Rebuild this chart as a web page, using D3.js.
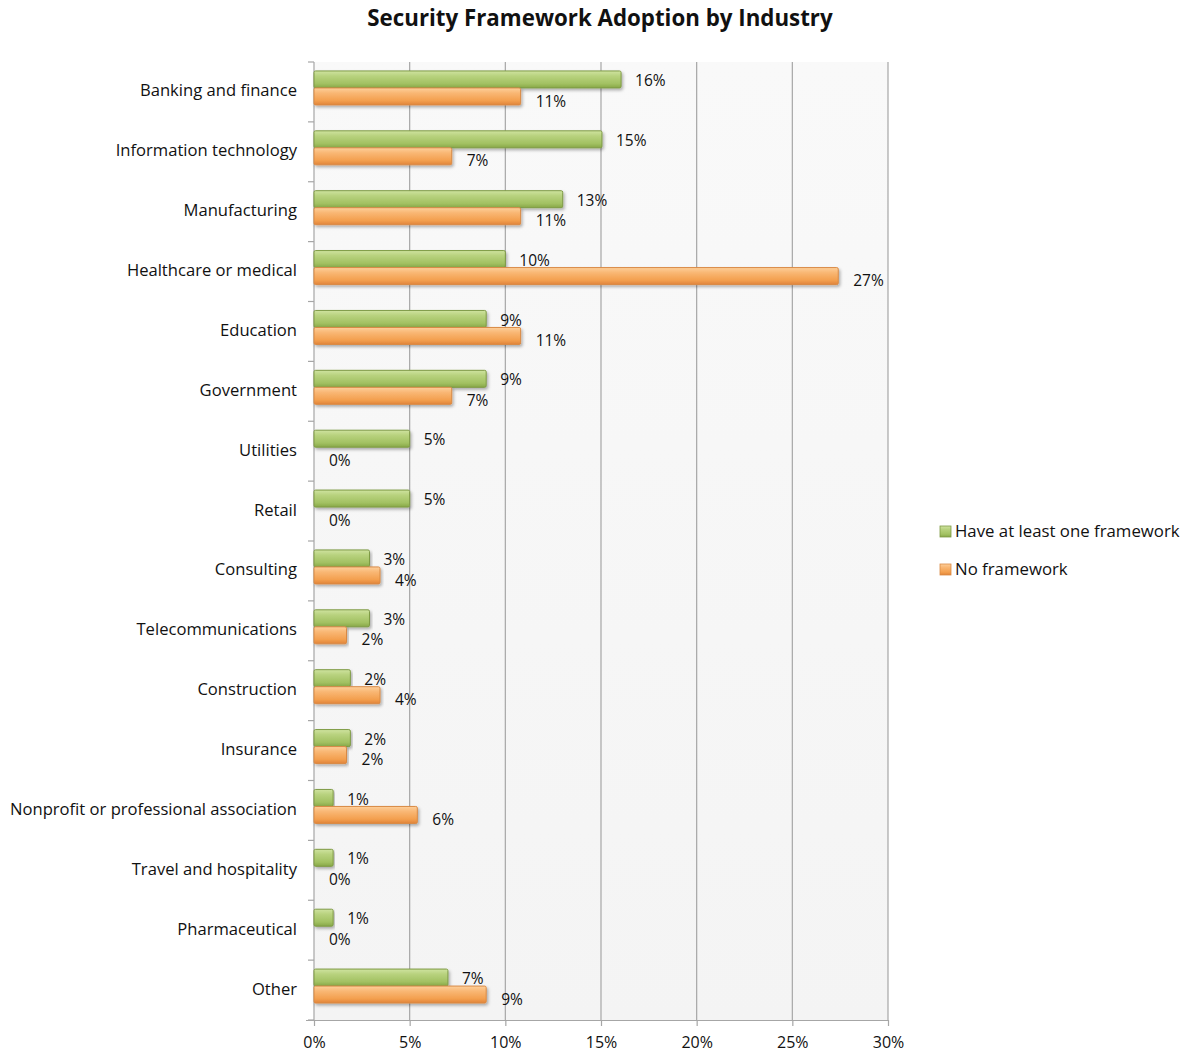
<!DOCTYPE html>
<html>
<head>
<meta charset="utf-8">
<script src="https://cdn.jsdelivr.net/npm/d3@7"></script>
<style>
  body { margin: 0; background: #fff; }
  svg { display: block; font-family: "Open Sans", "Liberation Sans", sans-serif; }
</style>
</head>
<body>
<svg id="chart" width="1191" height="1053"></svg>
<script>
const categories = [
  "Banking and finance", "Information technology", "Manufacturing",
  "Healthcare or medical", "Education", "Government", "Utilities", "Retail",
  "Consulting", "Telecommunications", "Construction", "Insurance",
  "Nonprofit or professional association", "Travel and hospitality",
  "Pharmaceutical", "Other"
];
const seriesNames = ["Have at least one framework", "No framework"];
const withFramework = [16.05, 15.05, 13.0, 10.0, 9.0, 9.0, 5.0, 5.0, 2.9, 2.9, 1.9, 1.9, 1.0, 1.0, 1.0, 7.0];
const noFramework   = [10.8, 7.2, 10.8, 27.4, 10.8, 7.2, 0, 0, 3.45, 1.7, 3.45, 1.7, 5.4, 0, 0, 9.0];
const withLabels = ["16%", "15%", "13%", "10%", "9%", "9%", "5%", "5%", "3%", "3%", "2%", "2%", "1%", "1%", "1%", "7%"];
const noLabels   = ["11%", "7%", "11%", "27%", "11%", "7%", "0%", "0%", "4%", "2%", "4%", "2%", "6%", "0%", "0%", "9%"];
const xTicks = [0, 5, 10, 15, 20, 25, 30];

const svg = d3.select("#chart");
const m = { left: 314, right: 888, top: 62, bottom: 1020 };

const x = d3.scaleLinear().domain([0, 30]).range([m.left, m.right]);
const y = d3.scaleBand().domain(categories).range([m.top, m.bottom]);

const defs = svg.append("defs");
function grad(id, stops) {
  const g = defs.append("linearGradient").attr("id", id)
    .attr("x1", 0).attr("y1", 0).attr("x2", 0).attr("y2", 1);
  stops.forEach(s => g.append("stop").attr("offset", s[0]).attr("stop-color", s[1]));
}
grad("gGreen", [[0, "#cfe3a0"], [0.3, "#b8d27e"], [0.75, "#a2c162"], [1, "#87a747"]]);
grad("gOrange", [[0, "#fdcf9a"], [0.3, "#f9b774"], [0.75, "#f39f4e"], [1, "#e0843a"]]);
grad("gBg", [[0, "#f9f9f9"], [1, "#f4f4f4"]]);
const f = defs.append("filter").attr("id", "shadow").attr("x", "-5%").attr("y", "-30%").attr("width", "110%").attr("height", "170%");
f.append("feDropShadow").attr("dx", 1.5).attr("dy", 2).attr("stdDeviation", 1.5)
  .attr("flood-color", "#000").attr("flood-opacity", 0.3);

// plot background
svg.append("rect").attr("x", m.left).attr("y", m.top)
  .attr("width", m.right - m.left).attr("height", m.bottom - m.top)
  .attr("fill", "url(#gBg)");

// grid lines
svg.append("g").selectAll("line").data(xTicks.slice(1)).join("line")
  .attr("x1", d => x(d)).attr("x2", d => x(d))
  .attr("y1", m.top).attr("y2", m.bottom)
  .attr("stroke", "#a6a6a6").attr("stroke-width", 1.2);

// bottom axis
const xAxis = d3.axisBottom(x).tickValues(xTicks).tickFormat(d => d + "%").tickSize(6).tickPadding(11);
const gx = svg.append("g").attr("transform", `translate(0,${m.bottom})`).call(xAxis);
gx.select(".domain").attr("stroke", "#a6a6a6").attr("stroke-width", 1.2)
  .attr("d", `M${m.left - 8},0.5H${m.right}`);
gx.selectAll(".tick line").attr("stroke", "#a6a6a6").attr("stroke-width", 1.2);
gx.selectAll(".tick text").attr("fill", "#111").attr("font-size", 16)
  .attr("font-family", "'Open Sans', sans-serif");

// left axis line + category boundary ticks
svg.append("line").attr("x1", m.left).attr("x2", m.left).attr("y1", m.top).attr("y2", m.bottom)
  .attr("stroke", "#a6a6a6").attr("stroke-width", 1.2);
const bounds = categories.map(c => y(c)).concat([m.bottom]);
svg.append("g").selectAll("line").data(bounds).join("line")
  .attr("x1", m.left - 6).attr("x2", m.left)
  .attr("y1", d => d).attr("y2", d => d)
  .attr("stroke", "#a6a6a6").attr("stroke-width", 1.2);

// category labels
svg.append("g").selectAll("text").data(categories).join("text")
  .attr("x", m.left - 17).attr("y", d => y(d) + y.bandwidth() / 2)
  .attr("text-anchor", "end").attr("dominant-baseline", "middle")
  .attr("font-size", 16.6).attr("fill", "#111").text(d => d);

// bars
const barH = 17;
const off = -4;
const data = categories.map((c, i) => ({ c, a: withFramework[i], b: noFramework[i], la: withLabels[i], lb: noLabels[i] }));
const gBars = svg.append("g");
data.forEach(d => {
  const cy = y(d.c) + y.bandwidth() / 2 + off;
  if (d.a > 0) {
    gBars.append("rect").attr("x", x(0)).attr("y", cy - barH)
      .attr("width", x(d.a) - x(0)).attr("height", barH).attr("rx", 1.5)
      .attr("fill", "url(#gGreen)").attr("stroke", "#7e9a44").attr("stroke-width", 1)
      .attr("filter", "url(#shadow)");
  }
  if (d.b > 0) {
    gBars.append("rect").attr("x", x(0)).attr("y", cy)
      .attr("width", x(d.b) - x(0)).attr("height", barH).attr("rx", 1.5)
      .attr("fill", "url(#gOrange)").attr("stroke", "#d98a45").attr("stroke-width", 1)
      .attr("filter", "url(#shadow)");
  }
});

// data labels
const gLab = svg.append("g").attr("font-size", 15.5).attr("fill", "#111");
data.forEach(d => {
  const cy = y(d.c) + y.bandwidth() / 2 + off;
  gLab.append("text").attr("x", x(d.a) + 14).attr("y", cy - barH / 2 + 2.5)
    .attr("dominant-baseline", "middle").text(d.la);
  gLab.append("text").attr("x", x(d.b) + 15).attr("y", cy + barH / 2 + 6)
    .attr("dominant-baseline", "middle").text(d.lb);
});

// title
svg.append("text").attr("x", 600).attr("y", 20).attr("text-anchor", "middle")
  .attr("dominant-baseline", "middle").attr("font-size", 22.3).attr("font-weight", "bold")
  .attr("fill", "#111").text("Security Framework Adoption by Industry");

// legend
const legend = svg.append("g");
const fills = ["url(#gGreen)", "url(#gOrange)"];
const strokes = ["#7e9a44", "#d98a45"];
seriesNames.forEach((s, i) => {
  const ly = 532 + i * 38;
  legend.append("rect").attr("x", 940).attr("y", ly - 6).attr("width", 11).attr("height", 11)
    .attr("fill", fills[i]).attr("stroke", strokes[i]).attr("stroke-width", 0.8);
  legend.append("text").attr("x", 955).attr("y", ly).attr("dominant-baseline", "middle")
    .attr("font-size", 16.8).attr("fill", "#111").text(s);
});
</script>
</body>
</html>
